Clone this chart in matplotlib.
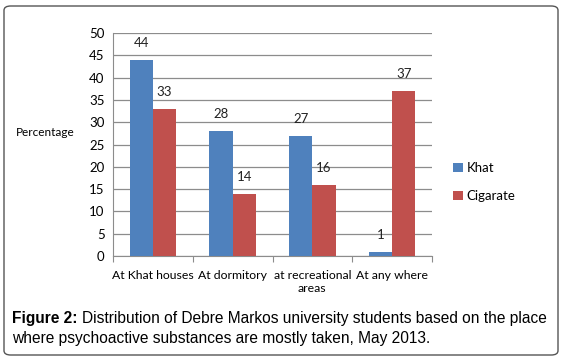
import numpy as np
import matplotlib
matplotlib.use("Agg")
import matplotlib.pyplot as plt
from matplotlib.patches import FancyBboxPatch

# data
places = ["At Khat houses", "At dormitory", "at recreational\nareas", "At any where"]
khat = [44, 28, 27, 1]
cigarate = [33, 14, 16, 37]
yticks = [0, 5, 10, 15, 20, 25, 30, 35, 40, 45, 50]

W, H = 563, 360
fig = plt.figure(figsize=(W / 100, H / 100), dpi=100)
fig.patch.set_facecolor("white")

# rounded frame round the whole figure
frame = FancyBboxPatch((4 / W, 5 / H), (W - 9) / W, (H - 11) / H,
                       boxstyle="round,pad=0,rounding_size=0.012",
                       transform=fig.transFigure, fill=False,
                       edgecolor="#555555", linewidth=1.0)
fig.patches.append(frame)

ax = fig.add_axes([113 / W, 1 - 256 / H, (432 - 113) / W, (256 - 33) / H])
font = "Lato"

x = np.arange(len(places))
bw = 0.29
b1 = ax.bar(x - bw / 2, khat, bw, color="#4F81BD", label="Khat", zorder=3)
b2 = ax.bar(x + bw / 2, cigarate, bw, color="#C0504D", label="Cigarate", zorder=3)

for bars, vals in ((b1, khat), (b2, cigarate)):
    for r, v in zip(bars, vals):
        ax.text(r.get_x() + r.get_width() / 2, v + 2.4, str(v), ha="center",
                va="bottom", fontsize=9.5, family=font, color="#222222")

ax.set_xlim(-0.5, len(places) - 0.5)
ax.set_ylim(0, 50)
ax.set_yticks(yticks)
ax.set_yticklabels([str(t) for t in yticks], fontsize=9.5, family=font)
ax.yaxis.grid(True, color="#8c8c8c", linewidth=0.9, zorder=0)
ax.tick_params(axis="y", length=0, pad=6)

ax.set_xticks(np.arange(-0.5, len(places), 1.0))
ax.set_xticklabels([])
ax.set_xticks(x, minor=True)
ax.set_xticklabels(places, minor=True, fontsize=8.8, family=font)
ax.tick_params(axis="x", which="major", length=4, color="#8c8c8c")
ax.tick_params(axis="x", which="minor", length=0, pad=10)

for s in ("top", "right"):
    ax.spines[s].set_visible(False)
ax.spines["left"].set_color("#8c8c8c")
ax.spines["bottom"].set_color("#8c8c8c")

fig.text(16 / W, 1 - 133 / H, "Percentage", fontsize=8.5, family=font,
         va="center", ha="left")

ax.legend(loc="center left", bbox_to_anchor=(1.03, 0.33), frameon=False,
          prop={"family": font, "size": 9.5}, handlelength=0.7,
          handleheight=0.7, labelspacing=1.2, handletextpad=0.3)

# caption: bold lead-in followed by regular text
cap = "Liberation Sans"
fs = 11.2
lead = fig.text(12 / W, 1 - 318 / H, "Figure 2:", fontsize=fs, family=cap,
                weight="bold", va="center")
fig.canvas.draw()
bb = lead.get_window_extent(renderer=fig.canvas.get_renderer())
fig.text(bb.x1 / W + 4 / W, 1 - 318 / H,
         "Distribution of Debre Markos university students based on the place",
         fontsize=fs, family=cap, va="center")
fig.text(12 / W, 1 - 338 / H,
         "where psychoactive substances are mostly taken, May 2013.",
         fontsize=fs, family=cap, va="center")

fig.savefig("out.png", dpi=100)
